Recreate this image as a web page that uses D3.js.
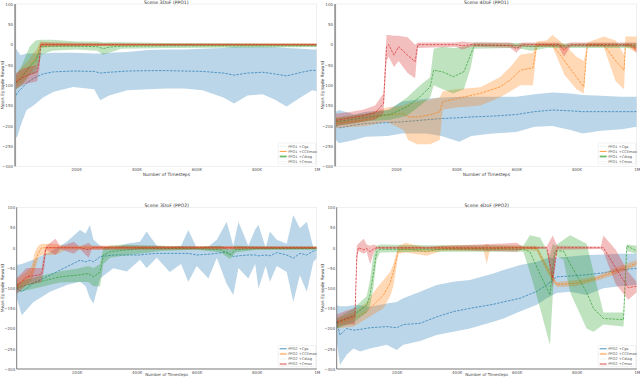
<!DOCTYPE html>
<html>
<head>
  <meta charset="utf-8">
  <title>Mean episode reward, four scenes</title>
  <style type="text/css">
    html, body { margin: 0; padding: 0; background: #fff; }
    svg { display: block; font-family: "DejaVu Sans", sans-serif; }
  </style>
  <script src="https://d3js.org/d3.v7.min.js"></script>
</head>
<body>
  <svg id="chart" width="640" height="377"></svg>
  <script>
    // each row: [timesteps (K), mean, lower, upper]
    var titles = ["Scene 3DoF (PPO1)", "Scene 4DoF (PPO1)", "Scene 3DoF (PPO2)", "Scene 4DoF (PPO2)"];
    var seriesNames = ["+Cgs", "+CCEmax", "+Cdiag", "+Cmax"];
    var colors = ["#1f77b4", "#ff7f0e", "#2ca02c", "#d62728"];
    var yTicks = [100, 50, 0, -50, -100, -150, -200, -250, -300];
    var xTicks = [200000, 400000, 600000, 800000, 1000000];
    var xTickLabels = ["200K", "400K", "600K", "800K", "1M"];

    // scene 3DoF, PPO1
    var tlBlue = [[0,-125,-230,-10],[5,-118,-225,-15],[15,-110,-200,-26],[35,-95,-161,-22],[58,-83,-150,-22],[90,-72,-130,-22],[125,-67,-116,-20],[190,-65,-104,-20],[260,-66,-110,-22],[280,-70,-137,-22],[310,-68,-125,-20],[370,-65,-112,-18],[440,-64,-110,-13],[500,-64,-108,-12],[560,-65,-108,-12],[620,-66,-112,-10],[690,-70,-130,-8],[725,-75,-145,-5],[770,-70,-125,-5],[820,-68,-122,-5],[860,-72,-135,-6],[900,-77,-152,-8],[950,-68,-128,-10],[985,-63,-112,-12],[1000,-64,-115,-12]];
    var tlOrange = [[0,-90,-105,-75],[20,-75,-95,-55],[40,-60,-80,-40],[58,-40,-60,-20],[70,-30,-50,-10],[80,0,-8,8],[120,0,-5,5],[200,-1,-4,3],[400,0,-3,3],[600,0,-3,3],[800,0,-3,3],[1000,0,-3,3]];
    var tlGreen = [[0,-95,-110,-75],[20,-80,-100,-50],[45,-55,-75,-5],[65,-40,-70,10],[85,-5,-25,12],[120,-4,-15,12],[200,-4,-12,8],[270,-5,-15,8],[290,-10,-25,5],[310,-6,-20,6],[350,-4,-10,6],[500,-3,-8,4],[1000,-3,-6,2]];
    var tlRed = [[0,-92,-110,-70],[20,-82,-100,-60],[40,-75,-95,-55],[70,-67,-90,-50],[78,-40,-60,-20],[82,0,-4,5],[400,0,-3,3],[1000,0,-3,3]];

    // scene 4DoF, PPO1
    var trBlue = [[0,-200,-235,-165],[10,-205,-243,-161],[60,-198,-235,-172],[100,-194,-227,-165],[170,-192,-225,-161],[220,-190,-219,-140],[300,-185,-219,-133],[350,-182,-225,-130],[410,-180,-239,-128],[450,-178,-225,-128],[520,-176,-219,-128],[600,-172,-215,-128],[660,-165,-202,-122],[720,-161,-200,-118],[780,-163,-210,-120],[820,-165,-219,-124],[880,-165,-212,-126],[950,-165,-208,-128],[1000,-165,-202,-128]];
    var trOrange = [[0,-194,-205,-180],[100,-185,-200,-170],[169,-173,-190,-155],[225,-170,-210,-150],[240,-178,-235,-145],[269,-178,-245,-140],[313,-173,-245,-135],[345,-165,-235,-130],[355,-140,-160,-115],[400,-133,-155,-110],[480,-120,-150,-105],[545,-104,-130,-80],[580,-87,-115,-55],[613,-63,-100,-25],[655,-57,-100,-20],[668,0,-5,8],[700,0,-5,10],[720,0,-5,24],[760,-40,-75,0],[800,-80,-110,-30],[824,-104,-120,-40],[836,0,-5,5],[890,0,-5,20],[930,-40,-90,10],[958,-63,-110,-25],[963,0,-5,20],[1000,-12,-20,20]];
    var trGreen = [[0,-190,-200,-180],[110,-178,-188,-168],[180,-172,-185,-160],[236,-153,-175,-130],[280,-128,-150,-100],[313,-104,-130,-80],[325,-63,-100,-10],[355,-67,-110,-5],[390,-79,-120,-8],[425,-67,-110,-5],[447,-26,-60,0],[460,-2,-10,5],[600,-2,-8,4],[650,-5,-15,3],[700,-3,-8,3],[1000,-2,-8,4]];
    var trRed = [[0,-186,-200,-170],[50,-180,-195,-165],[90,-175,-190,-160],[130,-168,-185,-150],[158,-145,-170,-120],[168,-5,-40,24],[175,0,-30,24],[193,-26,-55,22],[208,-5,-40,22],[238,-26,-70,18],[263,-42,-83,0],[272,0,-8,5],[400,0,-5,5],[420,-3,-12,8],[450,0,-5,5],[580,-2,-8,5],[600,-10,-20,0],[620,0,-5,5],[740,0,-5,5],[758,-13,-30,0],[780,0,-5,5],[980,0,-5,5],[1000,-10,-20,5]];

    // scene 3DoF, PPO2
    var blBlue = [[0,-100,-125,-43],[17,-109,-167,-40],[55,-88,-135,-30],[111,-68,-109,-10],[167,-47,-92,15],[211,-31,-84,44],[230,-35,-95,35],[244,-31,-125,56],[256,-35,-138,20],[278,-22,-76,5],[322,-18,-51,-2],[367,-18,-59,10],[411,-18,-30,15],[433,-16,-50,40],[467,-14,-25,5],[510,-14,-60,0],[548,-14,-40,5],[572,-14,-84,44],[600,-18,-45,0],[639,-16,-76,3],[667,-14,-25,20],[700,-10,-90,64],[722,-22,-117,5],[739,-20,-50,64],[772,-18,-76,5],[795,-18,-40,45],[806,-20,-101,56],[830,-18,-45,0],[844,-20,-84,40],[867,-12,-45,20],[900,-18,-60,10],[922,-26,-134,81],[944,-14,-68,48],[967,-18,-109,64],[989,-8,-35,0],[1000,-6,-26,-2]];
    var blOrange = [[0,-92,-105,-78],[33,-76,-90,-60],[50,-63,-80,-45],[61,-35,-55,-10],[72,-14,-25,5],[83,0,-18,10],[120,0,-18,10],[140,0,-15,8],[160,0,-5,5],[1000,0,-3,3]];
    var blGreen = [[0,-100,-110,-90],[33,-92,-105,-78],[78,-84,-98,-70],[144,-72,-86,-58],[200,-68,-85,-52],[239,-64,-85,-45],[256,-72,-95,-50],[278,-60,-95,-40],[289,-18,-40,0],[311,-10,-25,5],[356,-6,-20,8],[411,-2,-15,6],[480,-2,-8,5],[600,-2,-5,3],[680,-5,-12,5],[711,-18,-28,-5],[730,-5,-12,5],[800,-2,-5,3],[1000,-2,-5,3]];
    var blRed = [[0,-96,-115,-75],[33,-72,-92,-50],[83,-66,-85,-50],[92,-30,-50,-10],[98,0,-5,5],[130,0,-18,22],[145,0,-3,3],[190,0,-15,15],[210,0,-3,3],[240,-5,-25,12],[250,0,-5,5],[1000,0,-3,3]];

    // scene 4DoF, PPO2
    var brBlue = [[0,-183,-230,-142],[11,-216,-290,-145],[33,-200,-265,-145],[56,-204,-249,-142],[78,-202,-257,-142],[111,-198,-249,-146],[167,-195,-240,-138],[200,-198,-253,-134],[222,-190,-240,-125],[278,-187,-231,-109],[333,-171,-216,-92],[389,-158,-208,-84],[444,-150,-200,-80],[522,-140,-183,-64],[556,-134,-175,-55],[611,-125,-158,-43],[667,-108,-141,-35],[700,-92,-125,-26],[733,-72,-112,-24],[778,-70,-109,-22],[833,-67,-117,-18],[889,-62,-100,-17],[944,-55,-95,-15],[1000,-51,-92,-14]];
    var brOrange = [[0,-187,-200,-175],[56,-175,-195,-160],[100,-158,-175,-135],[133,-134,-160,-100],[156,-117,-150,-80],[178,-88,-120,-60],[189,-60,-95,-40],[206,-6,-15,5],[230,-3,-12,12],[300,-10,-20,0],[350,-2,-8,5],[490,-2,-8,5],[500,-5,-40,10],[510,-2,-8,5],[600,0,-5,5],[667,-2,-8,5],[700,-50,-60,-40],[733,-91,-97,-85],[800,-88,-95,-80],[867,-76,-82,-70],[922,-60,-68,-52],[1000,-39,-45,-30]];
    var brGreen = [[0,-187,-200,-175],[56,-167,-185,-150],[100,-142,-160,-120],[111,-117,-145,-80],[122,-66,-100,-20],[133,-10,-30,5],[144,-4,-12,8],[300,-4,-10,6],[500,-3,-10,6],[622,-4,-10,5],[644,-10,-60,31],[678,-66,-150,25],[711,-117,-241,-20],[720,-50,-120,10],[728,-8,-20,5],[756,-8,-30,20],[778,-40,-110,31],[833,-110,-200,10],[856,-150,-208,-60],[889,-175,-190,-160],[956,-178,-195,-160],[967,5,-8,8],[1000,-8,-15,5]];
    var brRed = [[0,-183,-195,-165],[33,-175,-190,-155],[61,-170,-190,-150],[67,-20,-40,5],[72,0,-8,10],[90,-5,-15,22],[100,-2,-10,8],[111,-10,-40,5],[125,-2,-10,8],[135,0,-3,3],[300,0,-3,3],[600,0,-10,12],[620,0,-3,3],[700,0,-3,3],[720,-75,-100,30],[735,0,-5,5],[880,0,-3,3],[889,0,-10,30],[930,-50,-90,-5],[972,-99,-129,-60],[1000,-95,-110,-85]];

    //panel layout
    var panels = [
      { title: titles[0], algo: "PPO1", x0: 16, x1: 316.7, yTop: 4, yBot: 166.5, series: [tlBlue, tlOrange, tlGreen, tlRed], top: true },
      { title: titles[1], algo: "PPO1", x0: 336, x1: 636.7, yTop: 4, yBot: 166.5, series: [trBlue, trOrange, trGreen, trRed], top: true },
      { title: titles[2], algo: "PPO2", x0: 16.7, x1: 316.7, yTop: 207.3, yBot: 369, series: [blBlue, blOrange, blGreen, blRed], top: false },
      { title: titles[3], algo: "PPO2", x0: 336.7, x1: 636.7, yTop: 207.3, yBot: 369, series: [brBlue, brOrange, brGreen, brRed], top: false }
    ];

    var svg = d3.select("#chart");

    panels.forEach(function (p, pi) {
      var g = svg.append("g");
      var x = d3.scaleLinear().domain([0, 1000000]).range([p.x0, p.x1]);
      var y = d3.scaleLinear().domain([-300, 100]).range([p.yBot, p.yTop]);
      var clipId = "clip" + pi;

      g.append("clipPath").attr("id", clipId)
        .append("rect")
        .attr("x", p.x0).attr("y", p.yTop)
        .attr("width", p.x1 - p.x0).attr("height", p.yBot - p.yTop);

      //frame
      g.append("rect")
        .attr("x", p.x0).attr("y", p.yTop)
        .attr("width", p.x1 - p.x0).attr("height", p.yBot - p.yTop)
        .attr("fill", "#fff")
        .attr("stroke", "#e4e4e4")
        .attr("stroke-width", 0.6);

      var area = d3.area()
        .x(function (d) { return x(d[0] * 1000); })
        .y0(function (d) { return y(d[2]); })
        .y1(function (d) { return y(d[3]); });
      var line = d3.line()
        .x(function (d) { return x(d[0] * 1000); })
        .y(function (d) { return y(d[1]); });

      var plot = g.append("g").attr("clip-path", "url(#" + clipId + ")");
      p.series.forEach(function (s, si) {
        plot.append("path")
          .attr("d", area(s))
          .attr("fill", colors[si])
          .attr("fill-opacity", 0.3);
        plot.append("path")
          .attr("d", line(s))
          .attr("fill", "none")
          .attr("stroke", colors[si])
          .attr("stroke-width", 0.8)
          .attr("stroke-dasharray", "2.5,1.2")
          .attr("opacity", 0.85);
      });

      //left spine
      if (p.top) {
        g.append("rect")
          .attr("x", p.x0 - 1.8).attr("y", p.yTop)
          .attr("width", 1.8).attr("height", p.yBot - p.yTop)
          .attr("fill", "#9a9a9a");
      } else {
        g.append("line")
          .attr("x1", p.x0).attr("x2", p.x0)
          .attr("y1", p.yTop).attr("y2", p.yBot)
          .attr("stroke", "#333").attr("stroke-width", 0.6);
        g.append("line")
          .attr("x1", p.x0).attr("x2", p.x1)
          .attr("y1", p.yBot).attr("y2", p.yBot)
          .attr("stroke", "#333").attr("stroke-width", 0.6);
      }

      //axes
      var yAxis = d3.axisLeft(y).tickValues(yTicks).tickSize(0).tickPadding(p.top ? 3 : 1.5);
      var xAxis = d3.axisBottom(x).tickValues(xTicks).tickSize(0).tickPadding(2)
        .tickFormat(function (d, i) { return xTickLabels[i]; });
      var ya = g.append("g").attr("transform", "translate(" + p.x0 + ",0)").call(yAxis);
      var xa = g.append("g").attr("transform", "translate(0," + p.yBot + ")").call(xAxis);
      [ya, xa].forEach(function (a) {
        a.select(".domain").remove();
        a.selectAll("text")
          .attr("font-size", 4)
          .attr("font-family", "DejaVu Sans, sans-serif")
          .attr("fill", "#555");
      });

      //title and labels
      var cx = (p.x0 + p.x1) / 2;
      g.append("text")
        .attr("x", cx).attr("y", p.yTop - 0.5)
        .attr("text-anchor", "middle")
        .attr("font-size", 4.6)
        .attr("fill", "#333")
        .text(p.title);
      g.append("text")
        .attr("x", cx).attr("y", p.top ? p.yBot + 9 : p.yBot + 6.8)
        .attr("text-anchor", "middle")
        .attr("font-size", p.top ? 4.4 : 4)
        .attr("fill", "#444")
        .text("Number of Timesteps");
      g.append("text")
        .attr("transform", "translate(" + (p.x0 - 12.5) + "," + ((p.yTop + p.yBot) / 2) + ") rotate(-90)")
        .attr("text-anchor", "middle")
        .attr("font-size", 4.4)
        .attr("fill", "#444")
        .text("Mean Episode Reward");

      //legend
      var lx = p.x1 - 38.5, ly = p.yBot - 23.5;
      var lg = g.append("g").attr("transform", "translate(" + lx + "," + ly + ")");
      lg.append("rect")
        .attr("width", 37.5).attr("height", 21)
        .attr("rx", 0.8)
        .attr("fill", "#fff")
        .attr("stroke", "#ddd")
        .attr("stroke-width", 0.4);
      var swatch = p.top
        ? [{ c: "#eee", w: 0.8, o: 1 }, { c: colors[1], w: 0.8, o: 1 }, { c: colors[2], w: 1.8, o: 0.7 }, { c: "#eee", w: 0.8, o: 1 }]
        : [{ c: colors[0], w: 0.8, o: 1 }, { c: colors[1], w: 2, o: 0.45 }, { c: "#eee", w: 0.8, o: 1 }, { c: colors[3], w: 2, o: 0.45 }];
      seriesNames.forEach(function (n, i) {
        var yy = 3.3 + i * 5.1;
        lg.append("line")
          .attr("x1", 1.5).attr("x2", 8.5)
          .attr("y1", yy).attr("y2", yy)
          .attr("stroke", swatch[i].c)
          .attr("stroke-width", swatch[i].w)
          .attr("stroke-opacity", swatch[i].o);
        lg.append("text")
          .attr("x", 10).attr("y", yy + 1.3)
          .attr("font-size", 3.6)
          .attr("fill", "#555")
          .text(p.algo + " " + n);
      });
    });
  </script>
</body>
</html>
